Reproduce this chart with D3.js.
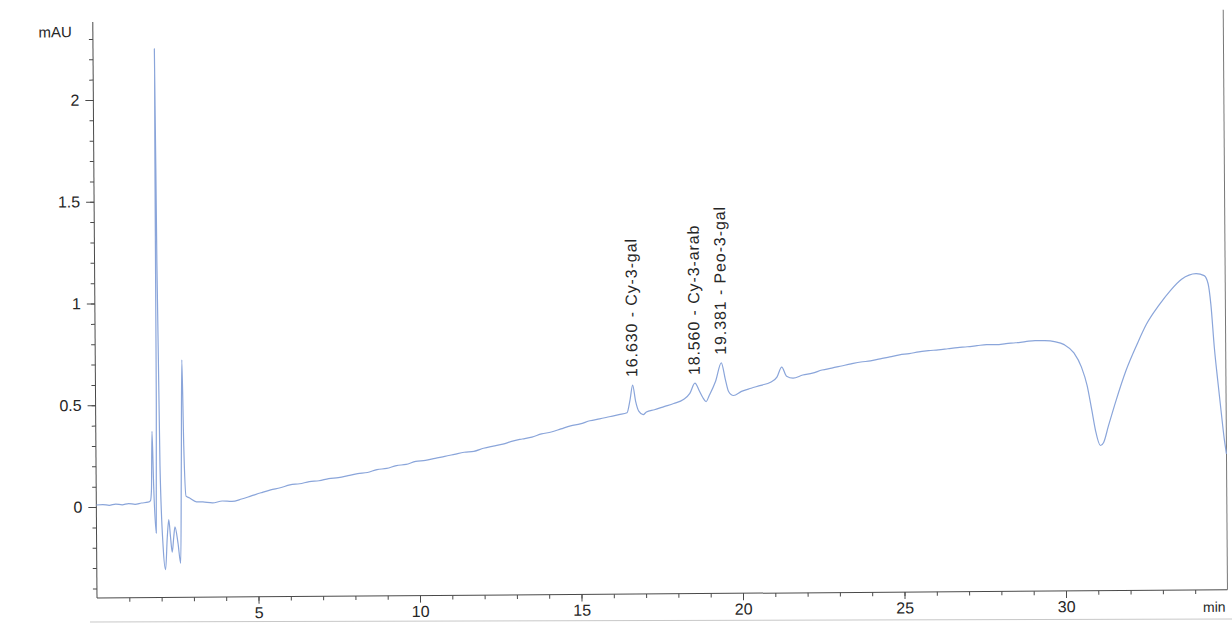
<!DOCTYPE html>
<html>
<head>
<meta charset="utf-8">
<script src="https://cdn.jsdelivr.net/npm/d3@7"></script>
<style>
  body { margin: 0; background: #fff; }
  svg { display: block; }
  text { font-family: "Liberation Sans", Arial, Helvetica, sans-serif; }
</style>
</head>
<body>
<svg id="chart" width="1232" height="628"></svg>
<script>
// ---- data ----
const times = [
  0, 0.2, 0.4, 0.6, 0.8, 1.0, 1.2, 1.4, 1.6, 1.68,
  1.71, 1.74, 1.78, 1.85, 1.88, 1.9, 1.93, 1.98, 2.06, 2.13,
  2.19, 2.24, 2.29, 2.34, 2.39, 2.43, 2.52, 2.6, 2.64, 2.68,
  2.72, 2.78, 2.88, 3.1,
  3.3, 3.6, 3.9, 4.2, 4.5, 4.8, 5.1, 5.4, 5.7, 6.0,
  6.3, 6.6, 6.9, 7.2, 7.5, 7.8, 8.1, 8.4, 8.7, 9.0,
  9.3, 9.6, 9.9, 10.2, 10.5, 10.8, 11.1, 11.4, 11.7, 12.0,
  12.3, 12.6, 12.9, 13.2, 13.5, 13.8, 14.1, 14.4, 14.7, 15.0,
  15.3, 15.6, 15.9, 16.2, 16.45, 16.55, 16.63, 16.72, 16.82, 16.95,
  17.05, 17.3, 17.6, 17.9, 18.2, 18.4, 18.56, 18.7, 18.8, 18.9,
  19.0, 19.2, 19.381, 19.5, 19.6, 19.75, 20.0, 20.3, 20.6, 20.9,
  21.1, 21.25, 21.4, 21.6, 21.9, 22.2, 22.5, 22.8, 23.1, 23.4,
  23.7, 24.0, 24.3, 24.6, 24.9, 25.2, 25.5, 25.8, 26.1, 26.4,
  26.7, 27.0, 27.3, 27.6, 27.9, 28.2, 28.5, 28.8, 29.1, 29.4,
  29.7, 30.0, 30.3, 30.53, 30.7, 30.84, 30.95, 31.1, 31.2, 31.35,
  31.6, 31.9, 32.25, 32.55, 32.95, 33.3, 33.65, 34.1, 34.35, 34.47,
  34.55, 34.65, 34.75, 34.85, 34.93, 35.0
];
const signal = [
  0.010, 0.012, 0.008, 0.014, 0.010, 0.016, 0.012, 0.018, 0.022, 0.030,
  0.080, 0.370, 0.100, -0.130, 0.500, 2.250, 1.200, 0.200, -0.200, -0.310,
  -0.150, -0.065, -0.150, -0.225, -0.150, -0.100, -0.180, -0.280, 0.200, 0.720,
  0.300, 0.050, 0.042, 0.022,
  0.021, 0.016, 0.025, 0.023, 0.034, 0.049, 0.064, 0.078, 0.088, 0.102,
  0.107, 0.117, 0.121, 0.131, 0.136, 0.145, 0.155, 0.160, 0.174, 0.179,
  0.193, 0.198, 0.213, 0.217, 0.227, 0.236, 0.246, 0.256, 0.260, 0.275,
  0.285, 0.294, 0.309, 0.319, 0.328, 0.343, 0.352, 0.367, 0.382, 0.391,
  0.406, 0.415, 0.425, 0.435, 0.444, 0.510, 0.580, 0.500, 0.450, 0.434,
  0.447, 0.458, 0.473, 0.488, 0.507, 0.537, 0.587, 0.547, 0.516, 0.496,
  0.526, 0.596, 0.686, 0.606, 0.545, 0.525, 0.545, 0.560, 0.574, 0.589,
  0.614, 0.663, 0.618, 0.608, 0.623, 0.632, 0.647, 0.656, 0.666, 0.676,
  0.685, 0.690, 0.700, 0.709, 0.719, 0.724, 0.733, 0.738, 0.742, 0.747,
  0.752, 0.756, 0.761, 0.766, 0.765, 0.770, 0.774, 0.779, 0.784, 0.783,
  0.778, 0.763, 0.722, 0.652, 0.562, 0.441, 0.341, 0.266, 0.281, 0.361,
  0.490, 0.630, 0.760, 0.860, 0.955, 1.025, 1.080, 1.107, 1.097, 1.057,
  0.957, 0.740, 0.575, 0.420, 0.300, 0.220
];
const peakTimes  = [16.630, 18.560, 19.381];
const peakNames  = ["Cy-3-gal", "Cy-3-arab", "Peo-3-gal"];
const yMajorTicks = [0, 0.5, 1, 1.5, 2];
const xMajorTicks = [5, 10, 15, 20, 25, 30];
const yUnit = "mAU";
const xUnit = "min";

// ---- layout ----
const svg = d3.select("#chart");
const plotL = 97, plotR = 1227.5, plotT = 22, plotB = 598;
const g = svg.append("g").attr("transform", `rotate(-0.42, ${plotL}, ${plotB})`);

const x = d3.scaleLinear().domain([0, 35]).range([plotL, plotR]);
const y = d3.scaleLinear().domain([-0.447, 2.383]).range([plotB, plotT]);

const axisColor = "#4a4a4a";
const textColor = "#262626";
const fontFam = '"Liberation Sans", Arial, sans-serif';

// Y axis: minor ticks
g.append("g").attr("transform", `translate(${plotL},0)`)
  .call(d3.axisLeft(y).tickValues(d3.range(-4, 24).map(d => d / 10)).tickSize(4).tickFormat(""))
  .call(a => a.select(".domain").remove())
  .call(a => a.selectAll("line").attr("stroke", axisColor));
// Y axis: major ticks
g.append("g").attr("transform", `translate(${plotL},0)`)
  .call(d3.axisLeft(y).tickValues(yMajorTicks).tickSize(8).tickPadding(6).tickFormat(d3.format("")))
  .call(a => a.select(".domain").remove())
  .call(a => a.selectAll("line").attr("stroke", axisColor))
  .call(a => a.selectAll("text").attr("font-size", 16).attr("fill", textColor).attr("font-family", fontFam));
g.append("line").attr("x1", plotL).attr("x2", plotL).attr("y1", plotT).attr("y2", plotB)
  .attr("stroke", axisColor).attr("stroke-width", 1);

// X axis: minor ticks
g.append("g").attr("transform", `translate(0,${plotB})`)
  .call(d3.axisBottom(x).tickValues(d3.range(1, 35)).tickSize(4).tickFormat(""))
  .call(a => a.select(".domain").remove())
  .call(a => a.selectAll("line").attr("stroke", axisColor));
// X axis: major ticks
g.append("g").attr("transform", `translate(0,${plotB})`)
  .call(d3.axisBottom(x).tickValues(xMajorTicks).tickSize(7).tickPadding(3).tickFormat(d3.format("")))
  .call(a => a.select(".domain").remove())
  .call(a => a.selectAll("line").attr("stroke", axisColor))
  .call(a => a.selectAll("text").attr("font-size", 16).attr("fill", textColor).attr("font-family", fontFam));
g.append("line").attr("x1", plotL).attr("x2", plotR).attr("y1", plotB).attr("y2", plotB)
  .attr("stroke", axisColor).attr("stroke-width", 1);

// right frame line
g.append("line").attr("x1", plotR).attr("x2", plotR).attr("y1", 18).attr("y2", plotB)
  .attr("stroke", "#777").attr("stroke-width", 1);

// unit labels
g.append("text").attr("x", 76).attr("y", 37).attr("text-anchor", "end")
  .attr("font-size", 15).attr("fill", textColor).text(yUnit);
g.append("text").attr("x", plotR - 2).attr("y", plotB + 22).attr("text-anchor", "end")
  .attr("font-size", 14).attr("fill", textColor).text(xUnit);

// trace
const data = times.map((t, i) => ({ t, v: signal[i] }));
const line = d3.line().x(d => x(d.t)).y(d => y(d.v)).curve(d3.curveMonotoneX);
g.append("path").datum(data).attr("d", line)
  .attr("fill", "none").attr("stroke", "#8aa5da").attr("stroke-width", 1.2)
  .attr("stroke-linejoin", "round");

// peak annotations
const fmt = d3.format(".3f");
peakTimes.forEach((pt, i) => {
  const idx = d3.minIndex(times, t => Math.abs(t - pt));
  const px = x(pt), py = y(signal[idx]) - 8;
  g.append("text")
    .attr("transform", `translate(${px},${py}) rotate(-90)`)
    .attr("dy", "0.3em")
    .attr("font-size", 16).attr("letter-spacing", "0.9px").attr("fill", textColor)
    .text(`${fmt(pt)} - ${peakNames[i]}`);
});

// faint page edge line at bottom of scan
svg.append("line").attr("x1", 90).attr("x2", 1232).attr("y1", 622).attr("y2", 619)
  .attr("stroke", "#c8c8c8").attr("stroke-width", 1);
</script>
</body>
</html>
